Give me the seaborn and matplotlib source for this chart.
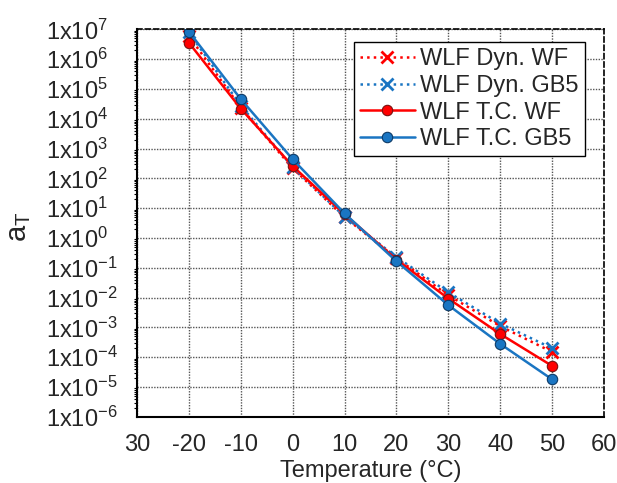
import numpy as np
import pandas as pd
import seaborn as sns
import matplotlib.pyplot as plt
from matplotlib.ticker import LogLocator, NullFormatter

# dados
temperatura = [-20, -10, 0, 10, 20, 30, 40, 50]
dyn_wf = [6.0e6, 2.4e4, 2.2e2, 5.0, 0.21, 1.2e-2, 1.1e-3, 1.5e-4]
dyn_gb5 = [8.0e6, 2.8e4, 2.4e2, 5.2, 0.23, 1.5e-2, 1.35e-3, 2.0e-4]
tc_wf = [3.6e6, 2.2e4, 2.6e2, 6.3, 0.19, 9.3e-3, 6.0e-4, 5.1e-5]
tc_gb5 = [8.5e6, 4.6e4, 4.4e2, 6.7, 0.166, 5.6e-3, 2.8e-4, 1.8e-5]

x_ticks = [-30, -20, -10, 0, 10, 20, 30, 40, 50, 60]
x_labels = ['30', '-20', '-10', '0', '10', '20', '30', '40', '50', '60']
y_exps = list(range(-6, 8))

sns.set_style('white')
plt.rcParams['font.family'] = ['Liberation Sans', 'DejaVu Sans']
plt.rcParams['mathtext.fontset'] = 'custom'
plt.rcParams['mathtext.rm'] = 'Liberation Sans'

vermelho = '#ff0000'
azul = '#1a75c2'

fig = plt.figure(figsize=(6.17, 4.83), dpi=100)
ax = fig.add_axes([0.222, 0.137, 0.757, 0.802])

sns.lineplot(x=temperatura, y=dyn_wf, ax=ax, color=vermelho, linestyle=':', linewidth=1.8,
             marker='x', markersize=9, markeredgewidth=2, markeredgecolor=vermelho,
             label='WLF Dyn. WF')
sns.lineplot(x=temperatura, y=dyn_gb5, ax=ax, color=azul, linestyle=':', linewidth=1.8,
             marker='x', markersize=9, markeredgewidth=2, markeredgecolor=azul,
             label='WLF Dyn. GB5')
sns.lineplot(x=temperatura, y=tc_wf, ax=ax, color=vermelho, linewidth=1.8,
             marker='o', markersize=7.5, markeredgecolor='#7a1010', markeredgewidth=0.8,
             label='WLF T.C. WF')
sns.lineplot(x=temperatura, y=tc_gb5, ax=ax, color=azul, linewidth=1.8,
             marker='o', markersize=7.5, markeredgecolor='#0d3a66', markeredgewidth=0.8,
             label='WLF T.C. GB5')

ax.set_yscale('log')
ax.set_ylim(1e-6, 1e7)
ax.set_xlim(-30, 60)
ax.set_xticks(x_ticks)
ax.set_xticklabels(x_labels, fontsize=17)
ax.set_yticks([10.0 ** e for e in y_exps])
ax.set_yticklabels([r'$\mathregular{1x10^{%d}}$' % e for e in y_exps], fontsize=17)
ax.yaxis.set_minor_locator(LogLocator(base=10, subs=np.arange(2, 10), numticks=20))
ax.yaxis.set_minor_formatter(NullFormatter())

ax.tick_params(axis='x', which='major', direction='out', length=3.5, width=1.2, color='black', pad=9)
ax.tick_params(axis='y', which='major', direction='out', length=3.5, width=1.2, color='black', pad=62)
ax.tick_params(axis='y', which='minor', direction='out', length=2.5, width=0.8, color='black', left=True)
for t in ax.get_yticklabels():
    t.set_horizontalalignment('left')

ax.grid(True, which='major', linestyle=(0, (1, 1)), color='#555555', linewidth=1.0)

for lado in ['left', 'bottom']:
    ax.spines[lado].set_color('black')
    ax.spines[lado].set_linewidth(1.5)
for lado in ['top', 'right']:
    ax.spines[lado].set_color('black')
    ax.spines[lado].set_linewidth(1.2)
    ax.spines[lado].set_linestyle((0, (3, 2)))

ax.set_xlabel('Temperature (°C)', fontsize=17, labelpad=3)
ax.set_ylabel(r'$\mathregular{a_T}$', fontsize=21)
ax.yaxis.set_label_coords(-0.222, 0.49)

leg = ax.legend(loc='upper right', bbox_to_anchor=(0.959, 0.967), borderaxespad=0, fontsize=17,
                frameon=True, fancybox=False, edgecolor='black', framealpha=1, handlelength=2.3,
                handletextpad=0.25, borderpad=0.25, labelspacing=0.2)
leg.get_frame().set_linewidth(1.0)

plt.savefig('out.png', dpi=100)
